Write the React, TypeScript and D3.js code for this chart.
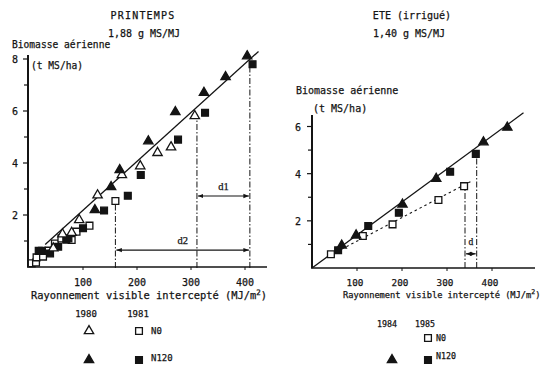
import React from "react";
import * as d3 from "d3";

const W = 543;
const H = 366;

// ---------- PRINTEMPS (spring) : [intercepted PAR MJ/m², biomass t MS/ha]
const spring1980N0: [number, number][] = [
  [45, 0.76], [62, 1.3], [79, 1.36], [93, 1.85], [127, 2.8], [172, 3.58],
  [206, 3.92], [238, 4.43], [263, 4.65], [307, 5.85],
];
const spring1980N120: [number, number][] = [
  [122, 2.23], [152, 3.12], [168, 3.77], [221, 4.88], [271, 6.0],
  [324, 6.74], [364, 7.35], [404, 8.15],
];
const spring1981N0: [number, number][] = [
  [5, 0.14], [13, 0.17], [14, 0.37], [26, 0.4], [36, 0.63], [48, 0.9],
  [60, 1.1], [79, 1.04], [88, 1.36], [112, 1.59], [160, 2.54],
];
const spring1981N120: [number, number][] = [
  [18, 0.62], [24, 0.62], [39, 0.52], [54, 0.78], [69, 1.05], [73, 1.1],
  [100, 1.49], [139, 2.17], [183, 2.74], [207, 3.54], [276, 4.9],
  [326, 5.93], [414, 7.8],
];
const springSlope = 0.0188; // 1,88 g MS/MJ
const springIntercept = 0.3;
const springLineX = [30, 425];
// dash-dot verticals: [x, top y]
const springDrops: [number, number][] = [[160, 2.54], [311, 5.88], [409, 7.85]];
// distance arrows: [label, x from, x to, y]
const springArrows: [string, number, number, number][] = [
  ["d1", 311, 409, 2.73],
  ["d2", 160, 409, 0.65],
];

// ---------- ETE (irrigué) : summer
const summerN120_1984: [number, number][] = [
  [66, 1.0], [98, 1.43], [201, 2.74], [276, 3.83], [381, 5.38], [434, 6.0],
];
const summerN0_1985: [number, number][] = [
  [42, 0.58], [113, 1.36], [179, 1.85], [281, 2.88], [338, 3.47],
];
const summerN120_1985: [number, number][] = [
  [58, 0.75], [125, 1.78], [193, 2.34], [307, 4.08], [364, 4.84],
];
const summerSlope = 0.014; // 1,40 g MS/MJ
const summerLineX = [0, 470];
const summerN0Slope = 0.01;
const summerN0Intercept = 0.14;
const summerN0LineX = [44, 353];
const summerDrops: [number, number][] = [[340, 3.47], [366, 4.84]];
const summerArrow: [string, number, number, number] = ["d", 340, 366, 0.6];

const xTicks = [100, 200, 300, 400];
const springYMajor = [2, 4, 6, 8];
const springYMinor = [1, 3, 5, 7];
const summerYMajor = [2, 4, 6];
const summerYMinor = [1, 3, 5];

const INK = "#141414";
const FONT = "'DejaVu Sans Mono', 'Liberation Mono', monospace";

const triPath = d3.symbol(d3.symbolTriangle, 38)()!;
const sqPath = d3.symbol(d3.symbolSquare, 46)()!;

function Marker({ x, y, kind, filled }: { x: number; y: number; kind: "tri" | "sq"; filled: boolean }) {
  return (
    <path
      d={kind === "tri" ? triPath : sqPath}
      transform={`translate(${x},${y + (kind === "tri" ? 1 : 0)})`}
      fill={filled ? INK : "#fff"}
      stroke={INK}
      strokeWidth={1.3}
    />
  );
}

const DASHDOT = "6,2,1.5,2";

export default function App() {
  // spring scales
  const sx = d3.scaleLinear().domain([0, 400]).range([29, 245]);
  const sy = d3.scaleLinear().domain([0, 8]).range([267, 59]);
  // summer scales
  const ex = d3.scaleLinear().domain([0, 400]).range([312, 492]);
  const ey = d3.scaleLinear().domain([0, 6]).range([268, 126.5]);

  const line = d3.line<[number, number]>();
  const springLine = line(springLineX.map((v) => [sx(v), sy(springIntercept + springSlope * v)]))!;
  const summerLine = line(summerLineX.map((v) => [ex(v), ey(summerSlope * v)]))!;
  const summerN0Line = line(
    summerN0LineX.map((v) => [ex(v), ey(summerN0Intercept + summerN0Slope * v)])
  )!;

  return (
    <svg width={W} height={H} style={{ display: "block", position: "absolute", left: 0, top: 0, background: "#fff" }}>
      <defs>
        <marker id="ah" viewBox="0 0 10 10" refX="10" refY="5" markerWidth="5" markerHeight="5" orient="auto-start-reverse">
          <path d="M0,1 L10,5 L0,9 z" fill={INK} />
        </marker>
      </defs>
      <rect width={W} height={H} fill="#fff" />
      <g fontFamily={FONT} fill={INK} stroke={INK} strokeWidth={0.25}>
        {/* ================= PRINTEMPS ================= */}
        <text x={143} y={19} fontSize={10} textAnchor="middle" letterSpacing={1.2}>PRINTEMPS</text>
        <text x={144} y={37} fontSize={10} textAnchor="middle">1,88 g MS/MJ</text>
        <text x={12} y={48} fontSize={9.6}>Biomasse aérienne</text>
        <text x={31} y={69} fontSize={9.6}>(t MS/ha)</text>

        {/* axes */}
        <line x1={28} y1={267} x2={28} y2={55} stroke={INK} strokeWidth={2} />
        <line x1={27} y1={267} x2={267} y2={267} stroke={INK} strokeWidth={1.6} />
        {springYMajor.map((t) => (
          <g key={"sm" + t}>
            <line x1={23} x2={28} y1={sy(t)} y2={sy(t)} stroke={INK} strokeWidth={1.2} />
            <text x={15} y={sy(t) + 4} fontSize={10} textAnchor="middle">{t}</text>
          </g>
        ))}
        {springYMinor.map((t) => (
          <line key={"sn" + t} x1={24} x2={28} y1={sy(t)} y2={sy(t)} stroke={INK} strokeWidth={1.2} />
        ))}
        {xTicks.map((t) => (
          <g key={"sx" + t}>
            <line x1={sx(t)} x2={sx(t)} y1={267} y2={270} stroke={INK} strokeWidth={1} />
            <text x={sx(t)} y={286} fontSize={10} textAnchor="middle">{t}</text>
          </g>
        ))}
        <text x={31} y={299} fontSize={10.4}>
          Rayonnement visible intercepté (MJ/m<tspan dy={-4} fontSize={7.5}>2</tspan><tspan dy={4}>)</tspan>
        </text>

        {/* dash-dot drops and distance arrows */}
        {springDrops.map(([v, top]) => (
          <line key={"sd" + v} x1={sx(v)} x2={sx(v)} y1={268} y2={sy(top)} stroke={INK} strokeWidth={1} strokeDasharray={DASHDOT} />
        ))}
        {springArrows.map(([lab, a, b, y]) => (
          <g key={lab}>
            <line x1={sx(a) + 1} x2={sx(b) - 1} y1={sy(y)} y2={sy(y)} stroke={INK} strokeWidth={1.1}
              markerStart="url(#ah)" markerEnd="url(#ah)" />
            <text x={(sx(a) + sx(b)) / 2} y={sy(y) - 6} fontSize={10.5}
              textAnchor="middle" fontFamily="'Liberation Serif', serif">{lab}</text>
          </g>
        ))}

        {/* regression line */}
        <path d={springLine} fill="none" stroke={INK} strokeWidth={1.3} />

        {spring1981N0.map(([v, b], i) => <Marker key={"a" + i} x={sx(v)} y={sy(b)} kind="sq" filled={false} />)}
        {spring1981N120.map(([v, b], i) => <Marker key={"b" + i} x={sx(v)} y={sy(b)} kind="sq" filled />)}
        {spring1980N0.map(([v, b], i) => <Marker key={"c" + i} x={sx(v)} y={sy(b)} kind="tri" filled={false} />)}
        {spring1980N120.map(([v, b], i) => <Marker key={"d" + i} x={sx(v)} y={sy(b)} kind="tri" filled />)}

        {/* legend */}
        <text x={86} y={317} fontSize={9} textAnchor="middle">1980</text>
        <text x={138} y={317} fontSize={9} textAnchor="middle">1981</text>
        <Marker x={89} y={330} kind="tri" filled={false} />
        <Marker x={139} y={331} kind="sq" filled={false} />
        <text x={151} y={334} fontSize={9}>N0</text>
        <Marker x={89} y={359} kind="tri" filled />
        <Marker x={139} y={360} kind="sq" filled />
        <text x={151} y={361} fontSize={9}>N120</text>

        {/* ================= ETE (irrigué) ================= */}
        <text x={412} y={19} fontSize={10} textAnchor="middle">ETE (irrigué)</text>
        <text x={409} y={37} fontSize={10} textAnchor="middle">1,40 g MS/MJ</text>
        <text x={296} y={94} fontSize={10}>Biomasse aérienne</text>
        <text x={313} y={112} fontSize={10}>(t MS/ha)</text>

        <line x1={312} y1={268} x2={312} y2={115} stroke={INK} strokeWidth={2} />
        <line x1={311} y1={268} x2={535} y2={268} stroke={INK} strokeWidth={1.6} />
        {summerYMajor.map((t) => (
          <g key={"em" + t}>
            <line x1={307} x2={312} y1={ey(t)} y2={ey(t)} stroke={INK} strokeWidth={1.2} />
            <text x={298} y={ey(t) + 4} fontSize={10} textAnchor="middle">{t}</text>
          </g>
        ))}
        {summerYMinor.map((t) => (
          <line key={"en" + t} x1={308} x2={312} y1={ey(t)} y2={ey(t)} stroke={INK} strokeWidth={1.2} />
        ))}
        {xTicks.map((t) => (
          <g key={"ex" + t}>
            <line x1={ex(t)} x2={ex(t)} y1={268} y2={271} stroke={INK} strokeWidth={1} />
            <text x={ex(t) - 2} y={286} fontSize={9.3} textAnchor="middle">{t}</text>
          </g>
        ))}
        <text x={343} y={298} fontSize={8.7}>
          Rayonnement visible intercepté (MJ/m<tspan dy={-4} fontSize={6.5}>2</tspan><tspan dy={4}>)</tspan>
        </text>

        {summerDrops.map(([v, top]) => (
          <line key={"ed" + v} x1={ex(v)} x2={ex(v)} y1={268} y2={ey(top)} stroke={INK} strokeWidth={1} strokeDasharray={DASHDOT} />
        ))}
        <line x1={ex(summerArrow[1]) + 1} x2={ex(summerArrow[2]) - 1} y1={ey(summerArrow[3])} y2={ey(summerArrow[3])}
          stroke={INK} strokeWidth={1.1} markerStart="url(#ah)" markerEnd="url(#ah)" />
        <text x={(ex(summerArrow[1]) + ex(summerArrow[2])) / 2} y={ey(summerArrow[3]) - 9} fontSize={9.5}
          textAnchor="middle" fontFamily="'Liberation Serif', serif">{summerArrow[0]}</text>

        <path d={summerLine} fill="none" stroke={INK} strokeWidth={1.3} />
        <path d={summerN0Line} fill="none" stroke={INK} strokeWidth={1.1} strokeDasharray="2.5,3" />

        {summerN0_1985.map(([v, b], i) => <Marker key={"f" + i} x={ex(v)} y={ey(b)} kind="sq" filled={false} />)}
        {summerN120_1985.map(([v, b], i) => <Marker key={"g" + i} x={ex(v)} y={ey(b)} kind="sq" filled />)}
        {summerN120_1984.map(([v, b], i) => <Marker key={"h" + i} x={ex(v)} y={ey(b)} kind="tri" filled />)}

        <text x={387} y={327} fontSize={8.3} textAnchor="middle">1984</text>
        <text x={425} y={327} fontSize={8.3} textAnchor="middle">1985</text>
        <Marker x={428} y={338} kind="sq" filled={false} />
        <text x={436} y={341} fontSize={8.3}>N0</text>
        <Marker x={392} y={359} kind="tri" filled />
        <Marker x={428} y={360} kind="sq" filled />
        <text x={436} y={359} fontSize={8.3}>N120</text>
      </g>
    </svg>
  );
}
